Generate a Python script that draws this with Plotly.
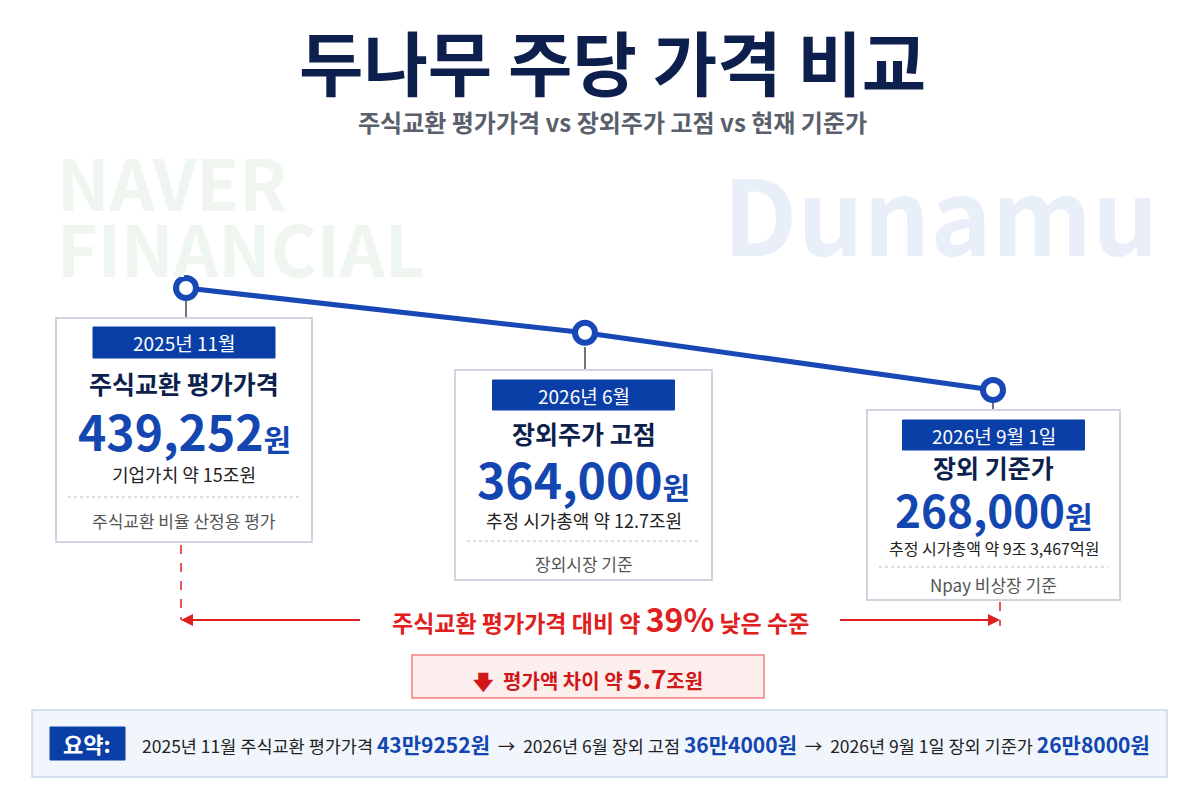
import plotly.graph_objects as go

dates = ["2025년 11월", "2026년 6월", "2026년 9월 1일"]
labels = ["주식교환 평가가격", "장외주가 고점", "장외 기준가"]
prices = [439252, 364000, 268000]
subs = ["기업가치 약 15조원", "추정 시가총액 약 12.7조원", "추정 시가총액 약 9조 3,467억원"]
foots = ["주식교환 비율 산정용 평가", "장외시장 기준", "Npay 비상장 기준"]
xpos = [186, 585, 993]
summary_short = ["43만9252원", "36만4000원", "26만8000원"]
gap_trillion = 5.7
pct_lower = 39

F = "Noto Sans CJK KR"
NAVY = "#0d1f4d"
BLUE = "#1346b0"
BADGE = "#0b3fa8"
RED = "#e02020"

fig = go.Figure()
fig.add_trace(go.Scatter(x=xpos, y=prices, yaxis="y2", mode="lines+markers",
    line=dict(color="#1748b5", width=5),
    marker=dict(size=20, color="white", line=dict(color="#1748b5", width=6)),
    hoverinfo="skip", showlegend=False))

shapes = []
ann = []
def A(x, y, t, size, color, bold=False, **kw):
    ann.append(dict(x=x, y=y, xref="x", yref="y", text=("<b>%s</b>" % t) if bold else t,
        showarrow=False, font=dict(family=F, size=size, color=color), **kw))

def rect(x0, y0, x1, y1, fill, line, w=1.5, dash=None, layer="above"):
    shapes.append(dict(type="rect", xref="x", yref="y", x0=x0, y0=y0, x1=x1, y1=y1,
        fillcolor=fill, line=dict(color=line, width=w, dash=dash), layer=layer))

def seg(x0, y0, x1, y1, color, w=1.5, dash=None, layer="above"):
    shapes.append(dict(type="line", xref="x", yref="y", x0=x0, y0=y0, x1=x1, y1=y1,
        line=dict(color=color, width=w, dash=dash), layer=layer))

# watermarks
A(55, 180, "NAVER", 70, "#eef6ef", True, xanchor="left")
A(55, 246, "FINANCIAL", 70, "#eef6ef", True, xanchor="left")
A(940, 210, "Dunamu", 104, "#e9eff9", True)

A(612, 60, "두나무 주당 가격 비교", 70, NAVY, True)
A(612, 121, "주식교환 평가가격 vs 장외주가 고점 vs 현재 기준가", 24, "#5a606b", True)

cards = [
    dict(x0=56, x1=312, y0=318, y1=542, by=(327, 358), ty=383, ny=430, sy=474, dy=497, fy=520, dot=288, ns=48),
    dict(x0=455, x1=712, y0=370, y1=580, by=(380, 410), ty=433, ny=478, sy=520, dy=541, fy=563, dot=337, ns=48),
    dict(x0=867, x1=1120, y0=410, y1=600, by=(420, 450), ty=467, ny=509, sy=548, dy=567, fy=584, dot=390, ns=44),
]
for i, c in enumerate(cards):
    cx = (c["x0"] + c["x1"]) / 2
    seg(xpos[i], c["dot"] + 10, xpos[i], c["y0"], "#445", 1.5, layer="below")
    rect(c["x0"], c["y0"], c["x1"], c["y1"], "white", "#cfd5df", 2)
    rect(cx - 91, c["by"][0], cx + 91, c["by"][1], BADGE, BADGE, 1)
    A(cx, (c["by"][0] + c["by"][1]) / 2, dates[i], 19, "white")
    A(cx, c["ty"], labels[i], 25, NAVY, True)
    A(cx, c["ny"], "<b>%s</b><b><span style='font-size:30px'>원</span></b>" % f"{prices[i]:,}", c["ns"], BLUE)
    A(cx, c["sy"], subs[i], 18 if i < 2 else 16, "#222")
    seg(c["x0"] + 12, c["dy"], c["x1"] - 12, c["dy"], "#bbb", 1.2, "dot")
    A(cx, c["fy"], foots[i], 17, "#555")

# red comparison
seg(181, 545, 181, 620, RED, 1.5, "dash")
seg(1000, 602, 1000, 626, RED, 1.5, "dash")
seg(190, 620, 360, 620, RED, 2)
seg(840, 620, 992, 620, RED, 2)
ann.append(dict(x=181, y=620, ax=200, ay=620, xref="x", yref="y", axref="x", ayref="y", text="",
    showarrow=True, arrowhead=2, arrowsize=1.2, arrowwidth=2, arrowcolor=RED))
ann.append(dict(x=1000, y=620, ax=980, ay=620, xref="x", yref="y", axref="x", ayref="y", text="",
    showarrow=True, arrowhead=2, arrowsize=1.2, arrowwidth=2, arrowcolor=RED))
A(600, 618, "<b>주식교환 평가가격 대비 약 <span style='font-size:32px'>%d%%</span> 낮은 수준</b>" % pct_lower, 23, RED)

rect(412, 655, 764, 698, "#fdeeee", "#f08080", 1.5)
A(588, 677, "<b>🡇  평가액 차이 약 <span style='font-size:26px'>%.1f</span>조원</b>" % gap_trillion, 20, "#d01818")

# summary
rect(32, 710, 1167, 777, "#f1f6fd", "#c9d6ea", 1.5)
rect(50, 727, 125, 760, BADGE, BADGE, 1)
A(87, 743, "요약:", 22, "white", True)
parts = []
for i in range(3):
    parts.append("%s %s <span style='color:%s;font-size:21px'><b>%s</b></span>" % (
        dates[i], labels[i].replace("장외주가", "장외"), BLUE, summary_short[i]))
A(646, 744, "  →  ".join(parts), 17.5, "#222")

OFF = 8  # page body margin
k = 102 / (prices[0] - prices[2])
top = prices[0] + (288 - OFF) / k
bot = prices[0] - (808 - 288) / k
fig.update_layout(width=1200, height=800, margin=dict(l=0, r=0, t=0, b=0),
    paper_bgcolor="white", plot_bgcolor="white",
    xaxis=dict(range=[OFF, 1200 + OFF], visible=False, fixedrange=True),
    yaxis=dict(range=[800 + OFF, OFF], visible=False, fixedrange=True),
    yaxis2=dict(range=[bot, top], visible=False, overlaying="y", fixedrange=True),
    shapes=shapes, annotations=ann)
fig.write_html("out.html")
